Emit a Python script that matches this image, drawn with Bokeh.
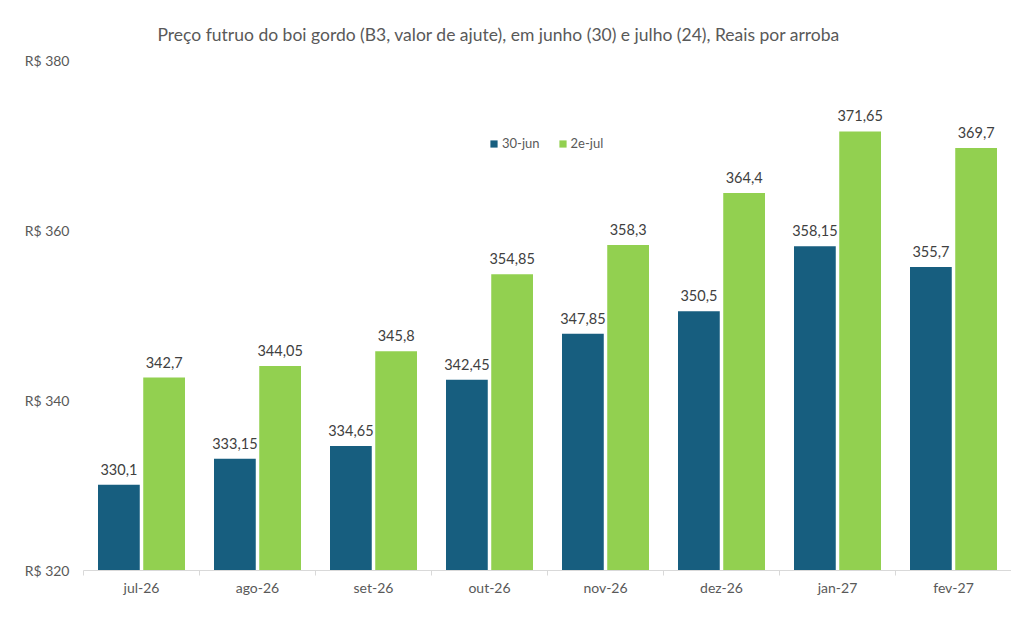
from bokeh.plotting import figure
from bokeh.models import (ColumnDataSource, Range1d, LinearAxis, FixedTicker, Legend,
                          LegendItem, CustomJSTickFormatter, Title)
from bokeh.transform import dodge
from bokeh.embed import file_html
from bokeh.resources import INLINE
from bokeh.core.properties import value

months = ["jul-26", "ago-26", "set-26", "out-26", "nov-26", "dez-26", "jan-27", "fev-27"]
jun30 = [330.1, 333.15, 334.65, 342.45, 347.85, 350.5, 358.15, 355.7]
jul02 = [342.7, 344.05, 345.8, 354.85, 358.3, 364.4, 371.65, 369.7]
series_names = ["30-jun", "2e-jul"]
y_ticks = [320, 340, 360, 380]
title_text = "Preço futruo do boi gordo (B3, valor de ajute), em junho (30) e julho (24), Reais por arroba"

FONT = "Lato"
BLUE = "#175E7F"
GREEN = "#92D050"
GRAY = "#595959"

def fmt(v):
    s = ("%.2f" % v).rstrip("0").rstrip(".")
    return s.replace(".", ",")

n = len(months)
centers = [i + 0.5 for i in range(n)]
bounds = list(range(n + 1))
src = ColumnDataSource(dict(
    x=centers, a=jun30, b=jul02,
    la=[fmt(v) for v in jun30], lb=[fmt(v) for v in jul02],
))

p = figure(width=1011, height=629, x_range=Range1d(0, n),
           y_range=Range1d(320, 380), output_backend="svg", toolbar_location=None,
           x_axis_location=None, y_axis_location=None,
           min_border_left=83, min_border_right=0, min_border_top=60, min_border_bottom=59)
p.outline_line_color = None
p.xgrid.visible = False
p.ygrid.visible = False
p.background_fill_color = "white"

# y axis
yax = LinearAxis(ticker=FixedTicker(ticks=y_ticks), axis_line_color=None,
                 major_tick_line_color=None, minor_tick_line_color=None,
                 major_tick_out=0, major_tick_in=0,
                 major_label_text_font=FONT, major_label_text_font_size="14px",
                 major_label_text_color=GRAY, major_label_standoff=14,
                 formatter=CustomJSTickFormatter(code="return 'R$ ' + tick;"))
p.add_layout(yax, "left")

# category axis: labels at centers, tick marks (minor) at boundaries
cax = LinearAxis(ticker=FixedTicker(ticks=centers, minor_ticks=bounds),
                 major_label_overrides={c: m for c, m in zip(centers, months)},
                 axis_line_color="#D9D9D9", axis_line_width=1,
                 major_tick_line_color=None, major_tick_in=0, major_tick_out=0,
                 minor_tick_line_color="#D9D9D9", minor_tick_in=0, minor_tick_out=5,
                 major_label_text_font=FONT,
                 major_label_text_font_size="14px", major_label_text_color=GRAY,
                 major_label_standoff=3)
p.add_layout(cax, "below")

w = 0.36
ra = p.vbar(x=dodge("x", -0.195), top="a", bottom=320, width=w, source=src,
            fill_color=BLUE, line_color=None)
rb = p.vbar(x=dodge("x", 0.195), top="b", bottom=320, width=w, source=src,
            fill_color=GREEN, line_color=None)

p.text(x=dodge("x", -0.195), y="a", text="la", source=src,
       text_align="center", text_baseline="bottom", y_offset=-10,
       text_font=value(FONT), text_font_size="14.5px", text_color="#404040")
p.text(x=dodge("x", 0.195), y="b", text="lb", source=src,
       text_align="center", text_baseline="bottom", y_offset=-10,
       text_font=value(FONT), text_font_size="14.5px", text_color="#404040")

legend = Legend(items=[LegendItem(label=series_names[0], renderers=[ra]),
                       LegendItem(label=series_names[1], renderers=[rb])],
                orientation="horizontal", location=(406, 419),
                label_text_font=FONT, label_text_font_size="13px", label_text_color=GRAY,
                glyph_width=9, glyph_height=9, label_standoff=4, spacing=18,
                padding=2, margin=0, border_line_color=None, background_fill_alpha=0)
p.add_layout(legend, "center")

t = Title(text=title_text, align="left", offset=74, text_font=FONT,
          text_font_size="17.5px", text_font_style="normal", text_color=GRAY, standoff=32)
p.add_layout(t, "above")

open("out.html", "w").write(file_html(p, INLINE))
